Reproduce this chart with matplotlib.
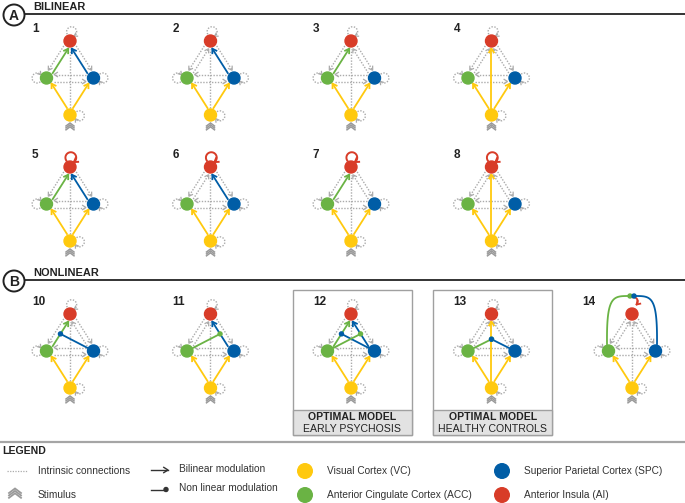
import numpy as np
import matplotlib.pyplot as plt
from matplotlib.patches import Circle, Rectangle

plt.rcParams['font.family'] = ['Liberation Sans', 'DejaVu Sans']

# ---- model definitions ----
model_labels = ['1', '2', '3', '4', '5', '6', '7', '8', '10', '11', '12', '13', '14']
model_rows = [0, 0, 0, 0, 1, 1, 1, 1, 2, 2, 2, 2, 2]
model_cols = [0, 1, 2, 3, 0, 1, 2, 3, 0, 1, 2, 3, 4]
# sources whose connection into AI is (bilinearly) modulated
bilinear = [['ACC', 'SPC'], ['SPC'], ['ACC'], ['VC'],
            ['ACC', 'SPC'], ['SPC'], ['ACC'], ['VC'],
            ['ACC'], ['SPC'], ['ACC', 'SPC'], ['VC'], []]
ai_self = [False] * 4 + [True] * 4 + [False] * 5
# (modulator, source of the modulated connection into AI)
nonlinear = [[]] * 8 + [[('SPC', 'ACC')], [('ACC', 'SPC')],
                        [('SPC', 'ACC'), ('ACC', 'SPC')],
                        [('ACC', 'VC'), ('SPC', 'VC')],
                        [('ACC', 'AI'), ('SPC', 'AI')]]
optimal = {'12': 'EARLY PSYCHOSIS', '13': 'HEALTHY CONTROLS'}

section_letters = ['A', 'B']
section_titles = ['BILINEAR', 'NONLINEAR']

legend_lines = ['Intrinsic connections', 'Stimulus']
legend_mods = ['Bilinear modulation', 'Non linear modulation']
legend_regions = ['Visual Cortex (VC)', 'Anterior Cingulate Cortex (ACC)',
                  'Superior Parietal Cortex (SPC)', 'Anterior Insula (AI)']
legend_region_keys = ['VC', 'ACC', 'SPC', 'AI']

colors = {'VC': '#FFC90E', 'ACC': '#6AB344', 'SPC': '#005DA6', 'AI': '#D83C28'}
GRAY = '#ABABAB'
DOT = (0, (1.0, 1.1))

# ---- layout (pixels) ----
col_x = [70, 210.5, 351, 491.5, 632]
row_y = [41, 167, 314]
node_off = {'AI': (0, 0), 'ACC': (-23.5, 37), 'SPC': (23.5, 37), 'VC': (0, 74)}
R = 6

fig = plt.figure(figsize=(6.85, 5.03), dpi=100)
ax = fig.add_axes([0, 0, 1, 1])
ax.set_xlim(0, 685)
ax.set_ylim(503, 0)
ax.axis('off')


def vhead(tip, d, color, size=4.5, lw=1.2, z=3):
    d = np.asarray(d, float) / np.hypot(*d)
    pts = []
    for s in (1, -1):
        a = np.radians(32) * s
        back = -np.array([d[0] * np.cos(a) - d[1] * np.sin(a),
                          d[0] * np.sin(a) + d[1] * np.cos(a)])
        pts.append(tip + size * back)
    ax.plot([pts[0][0], tip[0], pts[1][0]], [pts[0][1], tip[1], pts[1][1]],
            color=color, lw=lw, zorder=z, solid_joinstyle='miter')


def conn(pa, pb, ref, off, color, dotted, head=True, lw=1.3, z=3):
    pa, pb = np.asarray(pa, float), np.asarray(pb, float)
    u = (pb - pa) / np.hypot(*(pb - pa))
    n = np.array([-u[1], u[0]])
    if np.dot(n, np.asarray(ref) - (pa + pb) / 2) < 0:
        n = -n
    s = pa + u * (R + 1.5) + n * off
    e = pb - u * (R + 1.5) + n * off
    if dotted:
        ax.plot([s[0], e[0]], [s[1], e[1]], color=GRAY, lw=1.0, ls=DOT, zorder=1)
        if head:
            vhead(e, u, GRAY, size=4.0, lw=0.9, z=1)
    else:
        ax.plot([s[0], e[0]], [s[1], e[1]], color=color, lw=lw, zorder=z)
        if head:
            vhead(e, u, color, size=4.5, lw=lw, z=z)
    return s, e


def loop(node, phi_deg, color, dotted):
    phi = np.radians(phi_deg)
    rl = 5.0 if dotted else 5.4
    c = np.asarray(node) + (R + 3.4) * np.array([np.cos(phi), np.sin(phi)])
    back = phi + np.pi
    t = np.linspace(back + np.radians(50), back + np.radians(320), 40)
    x, y = c[0] + rl * np.cos(t), c[1] + rl * np.sin(t)
    if dotted:
        ax.plot(x, y, color=GRAY, lw=1.0, ls=DOT, zorder=1)
        vhead(np.array([x[-1], y[-1]]), (-np.sin(t[-1]), np.cos(t[-1])), GRAY, 3.4, 0.9, 1)
    else:
        ax.plot(x, y, color=color, lw=1.4, zorder=3)
        vhead(np.array([x[-1], y[-1]]), (-np.sin(t[-1]), np.cos(t[-1])), color, 4.2, 1.4, 3)


def stimulus(x, y, w=4.0, h=3.0, n=3, gap=1.9, lw=1.1):
    for k in range(n):
        yy = y + k * gap
        ax.plot([x - w, x, x + w], [yy + h, yy, yy + h], color='#9A9A9A', lw=lw,
                zorder=2, solid_joinstyle='miter')


def bezier(p0, p1, p2, p3, n=40):
    t = np.linspace(0, 1, n)[:, None]
    return ((1 - t) ** 3 * p0 + 3 * (1 - t) ** 2 * t * p1
            + 3 * (1 - t) * t ** 2 * p2 + t ** 3 * p3)


# ---- section headers ----
for letter, title, yl in zip(section_letters, section_titles, [14, 280]):
    ax.add_patch(Circle((14, yl + 1), 10.5, fc='white', ec='#222222', lw=1.4, zorder=4))
    ax.text(14, yl + 1.5, letter, fontsize=10, fontweight='bold', ha='center',
            va='center', color='#222222', zorder=5)
    ax.plot([24.5, 685], [yl, yl], color='#333333', lw=1.4, zorder=3)
    ax.text(33, yl - 7.5, title, fontsize=7.9, fontweight='bold', ha='left',
            va='center', color='#222222')

# ---- models ----
for i, lab in enumerate(model_labels):
    cx, ty = col_x[model_cols[i]], row_y[model_rows[i]]
    P = {k: np.array([cx + dx, ty + dy]) for k, (dx, dy) in node_off.items()}
    center = np.array([cx, ty + 37])

    if lab in optimal:
        ax.add_patch(Rectangle((cx - 58, 290), 119, 145, fc='white', ec='#A0A0A0',
                               lw=1.0, zorder=0))
        ax.add_patch(Rectangle((cx - 58, 410), 119, 25, fc='#E2E2E2', ec='#A0A0A0',
                               lw=1.0, zorder=0))
        ax.text(cx + 1.5, 417.5, 'OPTIMAL MODEL', fontsize=7.6, fontweight='bold',
                ha='center', va='center', color='#222222')
        ax.text(cx + 1.5, 429, optimal[lab], fontsize=7.6, ha='center', va='center',
                color='#222222')

    lx = cx - 50 if lab == '14' else cx - 38
    ax.text(lx, ty - 12, lab, fontsize=8.5, fontweight='bold', ha='left',
            va='center', color='#222222')

    mod = bilinear[i]
    conns = {}
    # AI <-> ACC / SPC : outer line AI->X, inner line X->AI
    for side in ['ACC', 'SPC']:
        conn(P['AI'], P[side], 2 * P[side] - center, 2.6, None, True)
        if side in mod:
            conns[side] = conn(P[side], P['AI'], center, 2.6, colors[side], False)
        else:
            conns[side] = conn(P[side], P['AI'], center, 2.6, None, True)
    # horizontal pair
    conn(P['SPC'], P['ACC'], P['AI'], 3.5, None, True)
    conn(P['ACC'], P['SPC'], P['VC'], 3.5, None, True)
    # vertical VC -> AI
    if 'VC' in mod:
        conns['VC'] = conn(P['VC'], P['AI'], center, 0, colors['VC'], False)
    else:
        conns['VC'] = conn(P['VC'], P['AI'], center, 0, None, True, head=False)
    # driving input VC -> ACC, SPC
    for side in ['ACC', 'SPC']:
        conn(P['VC'], P[side], center, 1.2, colors['VC'], False)

    # self loops
    loop(P['ACC'], 180, None, True)
    loop(P['SPC'], 0, None, True)
    loop(P['VC'], 5, None, True)
    if ai_self[i]:
        loop(P['AI'], -85, colors['AI'], False)
    elif lab != '14':
        loop(P['AI'], -80, None, True)

    # nonlinear modulations
    for m, target in nonlinear[i]:
        if target == 'AI':
            top_y = P['AI'][1] - 18
            sgn = -1 if m == 'ACC' else 1
            p0 = P[m] + np.array([sgn * 1.5, -R - 1])
            p3 = np.array([cx + 2 * sgn, top_y])
            p1 = np.array([p0[0] + 0.5 * sgn, top_y - 1])
            p2 = np.array([p0[0] - 6 * sgn, top_y])
            c = bezier(p0, p1, p2, p3)
            ax.plot(c[:, 0], c[:, 1], color=colors[m], lw=1.3, zorder=3)
            ax.add_patch(Circle(p3, 2.0, color=colors[m], zorder=4))
        else:
            s, e = conns[target]
            frac = 0.7 if target == 'VC' else 0.5
            dot = s + (e - s) * frac
            u = (dot - P[m]) / np.hypot(*(dot - P[m]))
            st = P[m] + u * (R + 1)
            ax.plot([st[0], dot[0]], [st[1], dot[1]], color=colors[m], lw=1.3, zorder=3)
            ax.add_patch(Circle(dot, 2.0, color=colors[m], zorder=4))
    if lab == '14':
        t = np.linspace(np.radians(-100), np.radians(45), 30)
        cc = P['AI'] + np.array([1.5, -12.5])
        x, y = cc[0] + 4.3 * np.cos(t), cc[1] + 4.3 * np.sin(t)
        ax.plot(x, y, color=colors['AI'], lw=1.3, zorder=3)
        vhead(np.array([x[-1], y[-1]]), (-np.sin(t[-1]), np.cos(t[-1])), colors['AI'], 3.8, 1.3)

    # nodes
    for k in ['AI', 'ACC', 'SPC', 'VC']:
        ax.add_patch(Circle(P[k], R, color=colors[k], zorder=5))
    stimulus(cx, P['VC'][1] + 8.0)

# ---- legend ----
ax.plot([0, 685], [442, 442], color='#A5A5A5', lw=1.6)
ax.text(2, 451, 'LEGEND', fontsize=7.6, fontweight='bold', ha='left', va='center',
        color='#222222')
ax.plot([7, 27], [471, 471], color=GRAY, lw=0.9, ls=DOT)
ax.text(38, 471, legend_lines[0], fontsize=7.3, ha='left', va='center', color='#333333')
stimulus(15, 488.5, w=6.0, h=4.5, n=3, gap=2.4, lw=1.3)
ax.text(38, 495, legend_lines[1], fontsize=7.3, ha='left', va='center', color='#333333')

ax.plot([151, 168], [470, 470], color='#333333', lw=1.0)
vhead(np.array([168, 470]), (1, 0), '#333333', size=5, lw=1.0)
ax.text(179, 469, legend_mods[0], fontsize=7.3, ha='left', va='center', color='#333333')
ax.plot([151, 166], [489.5, 489.5], color='#333333', lw=1.0)
ax.add_patch(Circle((166, 489.5), 2.0, color='#333333'))
ax.text(179, 488, legend_mods[1], fontsize=7.3, ha='left', va='center', color='#333333')

for j, (name, key) in enumerate(zip(legend_regions, legend_region_keys)):
    xc = 305 if j < 2 else 502
    yc = 471 if j % 2 == 0 else 495
    ax.add_patch(Circle((xc, yc), 7.3, color=colors[key]))
    ax.text(xc + 22, yc, name, fontsize=7.3, ha='left', va='center', color='#333333')

fig.savefig('out.png', dpi=100)
